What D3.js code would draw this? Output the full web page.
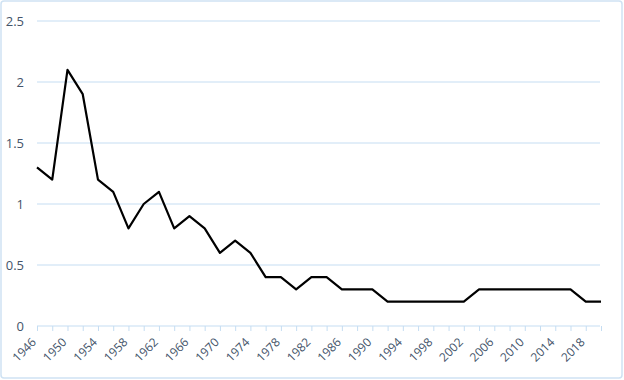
<!DOCTYPE html>
<html><head><meta charset="utf-8">
<script src="https://cdn.jsdelivr.net/npm/d3@7"></script>
<style>body{margin:0;background:#fff;}svg{display:block;font-family:"Open Sans", Lato, sans-serif;}</style>
</head><body>
<svg id="chart" width="624" height="380"></svg>
<script>
const years = [1946,1948,1950,1952,1954,1956,1958,1960,1962,1964,1966,1968,1970,1972,1974,1976,1978,1980,1982,1984,1986,1988,1990,1992,1994,1996,1998,2000,2002,2004,2006,2008,2010,2012,2014,2016,2018,2020];
const values = [1.3,1.2,2.1,1.9,1.2,1.1,0.8,1.0,1.1,0.8,0.9,0.8,0.6,0.7,0.6,0.4,0.4,0.3,0.4,0.4,0.3,0.3,0.3,0.2,0.2,0.2,0.2,0.2,0.2,0.3,0.3,0.3,0.3,0.3,0.3,0.3,0.2,0.2];
const yTicks = [0,0.5,1,1.5,2,2.5];
const xLabelYears = years.filter((d,i)=>i%2===0 && d<=2018);

const svg = d3.select("#chart");
const grid = "#c5ddf2", txt = "#44546a";
svg.append("rect").attr("x",1).attr("y",1).attr("width",621).attr("height",377)
  .attr("rx",3).attr("fill","#fff").attr("stroke","#cfe2f3").attr("stroke-width",1.5);

const x = d3.scaleLinear().domain([1946,2020]).range([37,601]);
const y = d3.scaleLinear().domain([0,2.5]).range([326,21]);

svg.append("g").selectAll("line").data(yTicks.filter(d=>d>0)).join("line")
  .attr("x1",37).attr("x2",600).attr("y1",d=>y(d)).attr("y2",d=>y(d))
  .attr("stroke",grid).attr("stroke-width",1);

svg.append("g").selectAll("text").data(yTicks).join("text")
  .attr("x",24).attr("y",d=>y(d)).attr("dy","0.35em").attr("text-anchor","end")
  .attr("fill",txt).style("font-size","13px").text(d=>d);

const xAxis = d3.axisBottom(x).tickValues(years).tickSize(5).tickFormat("");
const gx = svg.append("g").attr("transform","translate(0,326)").call(xAxis);
gx.select(".domain").attr("stroke",grid).attr("d","M37,0H600");
gx.selectAll(".tick line").attr("stroke",grid);

svg.append("g").selectAll("text").data(xLabelYears).join("text")
  .attr("transform",d=>`translate(${x(d)-3},${340}) rotate(-45)`)
  .attr("text-anchor","end").attr("dy","0.35em")
  .attr("fill",txt).style("font-size","12px").text(d=>d);

const line = d3.line().x((d,i)=>x(years[i])).y(d=>y(d));
svg.append("path").datum(values).attr("d",line).attr("fill","none")
  .attr("stroke","#000").attr("stroke-width",2.2).attr("stroke-linejoin","round");
</script>
</body></html>
